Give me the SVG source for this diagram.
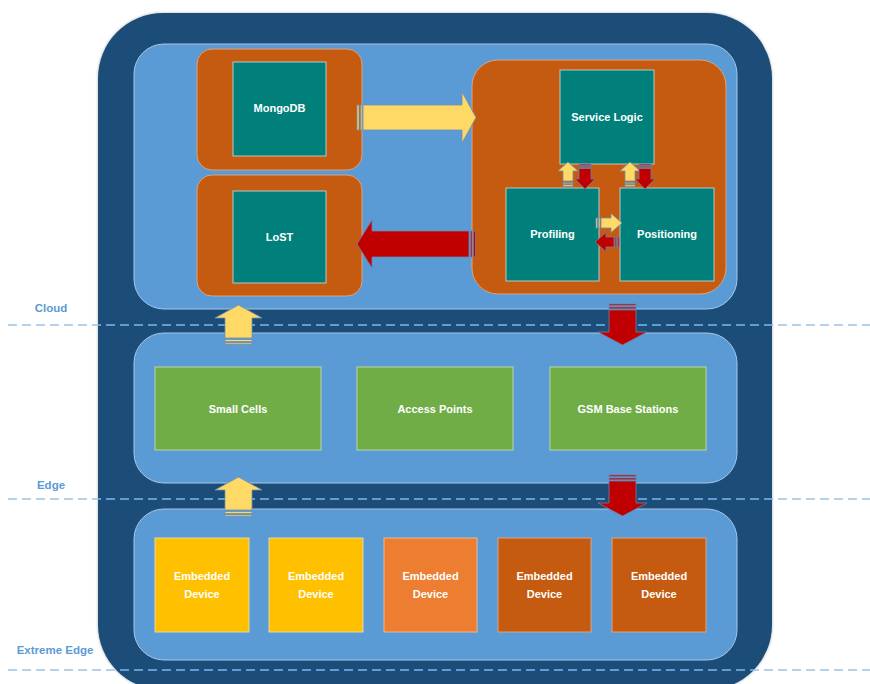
<svg xmlns="http://www.w3.org/2000/svg" width="870" height="684" viewBox="0 0 870 684">
  <defs>
    <style>
      .frame { fill: #1F4E79; }
      .panel { fill: #5B9BD5; stroke: #A9C6E4; stroke-width: 1; }
      .host { fill: #C55A11; stroke: #D9A37E; stroke-width: 1; }
      .svc { fill: #007F7B; stroke: #B7C9C8; stroke-width: 1; }
      .net { fill: #70AD47; stroke: #B9D6A4; stroke-width: 1; }
      .dev-y { fill: #FFC000; stroke: #E3D7A8; stroke-width: 1; }
      .dev-o { fill: #ED7D31; stroke: #E8B99A; stroke-width: 1; }
      .dev-r { fill: #C55A11; stroke: #D9A37E; stroke-width: 1; }
      .lbl { font-family: "Liberation Sans", Arial, sans-serif; font-weight: bold; font-size: 11px; fill: #FFFFFF; text-anchor: middle; }
      .tier { font-family: "Liberation Sans", Arial, sans-serif; font-weight: bold; font-size: 11.5px; fill: #5B9BD5; text-anchor: middle; }
      .divider { stroke: #9DC3E6; stroke-width: 1.3; stroke-dasharray: 9 5; fill: none; }
      .divider-in { stroke: #5B9BD5; stroke-width: 1.3; stroke-dasharray: 9 5; fill: none; }
      .up { fill: #FFD966; stroke: #6F8FAF; stroke-width: 0.8; }
      .down { fill: #C00000; stroke: #6F7FA8; stroke-width: 0.8; }
    </style>
    <filter id="glow" x="-5%" y="-5%" width="110%" height="110%">
      <feGaussianBlur in="SourceAlpha" stdDeviation="1.5"/>
      <feComponentTransfer><feFuncA type="linear" slope="0.3"/></feComponentTransfer>
      <feMerge><feMergeNode/><feMergeNode in="SourceGraphic"/></feMerge>
    </filter>
    <clipPath id="frame-clip">
      <rect x="98" y="13" width="674" height="677" rx="65" ry="65"/>
    </clipPath>
  </defs>

  <!-- outer container -->
  <rect class="frame" x="98" y="13" width="674" height="677" rx="65" ry="65" filter="url(#glow)"/>

  <!-- tier dividers: pale outside the container, brighter across it -->
  <g id="dividers">
    <line class="divider" x1="8" y1="325" x2="870" y2="325"/>
    <line class="divider" x1="8" y1="499" x2="870" y2="499"/>
    <line class="divider" x1="8" y1="670" x2="870" y2="670"/>
    <g clip-path="url(#frame-clip)">
      <line class="divider-in" x1="8" y1="325" x2="870" y2="325"/>
      <line class="divider-in" x1="8" y1="499" x2="870" y2="499"/>
      <line class="divider-in" x1="8" y1="670" x2="870" y2="670"/>
    </g>
  </g>
  <text class="tier" x="51" y="312">Cloud</text>
  <text class="tier" x="51" y="489">Edge</text>
  <text class="tier" x="55" y="654">Extreme Edge</text>

  <!-- cloud tier -->
  <g id="cloud">
    <rect class="panel" x="134" y="44" width="603" height="265" rx="30" ry="30"/>
  </g>
  <g id="mongodb">
    <rect class="host" x="197" y="49" width="165" height="121" rx="15" ry="15"/>
    <rect class="svc" x="233" y="62" width="93" height="94"/>
    <text class="lbl" x="279.5" y="112">MongoDB</text>
  </g>
  <g id="lost">
    <rect class="host" x="197" y="175" width="165" height="121" rx="15" ry="15"/>
    <rect class="svc" x="233" y="191" width="93" height="92"/>
    <text class="lbl" x="279.5" y="241">LoST</text>
  </g>
  <g id="service-host">
    <rect class="host" x="472" y="60" width="254" height="234" rx="26" ry="26"/>
  </g>
  <g id="service-logic">
    <rect class="svc" x="560" y="70" width="94" height="94"/>
    <text class="lbl" x="607" y="121">Service Logic</text>
  </g>
  <g id="profiling">
    <rect class="svc" x="506" y="188" width="93" height="93"/>
    <text class="lbl" x="552.5" y="238">Profiling</text>
  </g>
  <g id="positioning">
    <rect class="svc" x="620" y="188" width="94" height="93"/>
    <text class="lbl" x="667" y="238">Positioning</text>
  </g>

  <!-- edge tier -->
  <g id="edge">
    <rect class="panel" x="134" y="333" width="603" height="150" rx="30" ry="30"/>
  </g>
  <g id="small-cells">
    <rect class="net" x="155" y="367" width="166" height="83"/>
    <text class="lbl" x="238" y="413">Small Cells</text>
  </g>
  <g id="access-points">
    <rect class="net" x="357" y="367" width="156" height="83"/>
    <text class="lbl" x="435" y="413">Access Points</text>
  </g>
  <g id="gsm-base-stations">
    <rect class="net" x="550" y="367" width="156" height="83"/>
    <text class="lbl" x="628" y="413">GSM Base Stations</text>
  </g>

  <!-- extreme edge tier -->
  <g id="extreme-edge">
    <rect class="panel" x="134" y="509" width="603" height="151" rx="30" ry="30"/>
  </g>
  <g id="device-1">
    <rect class="dev-y" x="155" y="538" width="94" height="94"/>
    <text class="lbl" x="202" y="580">Embedded</text>
    <text class="lbl" x="202" y="598">Device</text>
  </g>
  <g id="device-2">
    <rect class="dev-y" x="269" y="538" width="94" height="94"/>
    <text class="lbl" x="316" y="580">Embedded</text>
    <text class="lbl" x="316" y="598">Device</text>
  </g>
  <g id="device-3">
    <rect class="dev-o" x="384" y="538" width="93" height="94"/>
    <text class="lbl" x="430.5" y="580">Embedded</text>
    <text class="lbl" x="430.5" y="598">Device</text>
  </g>
  <g id="device-4">
    <rect class="dev-r" x="498" y="538" width="93" height="94"/>
    <text class="lbl" x="544.5" y="580">Embedded</text>
    <text class="lbl" x="544.5" y="598">Device</text>
  </g>
  <g id="device-5">
    <rect class="dev-r" x="612" y="538" width="94" height="94"/>
    <text class="lbl" x="659" y="580">Embedded</text>
    <text class="lbl" x="659" y="598">Device</text>
  </g>

  <!-- connectors: striped block arrows -->
  <g id="connectors">
    <!-- MongoDB to Service Logic -->
    <rect class="up" x="357" y="105" width="2" height="25"/>
    <rect class="up" x="360.5" y="105" width="1.5" height="25"/>
    <path class="up" d="M363,105 H462 V92 L476,117.5 L462,143 V130 H363 Z"/>

    <!-- service host to LoST -->
    <path class="down" d="M357,244 L372,220 V231 H469 V257 H372 V268 Z"/>
    <rect class="down" x="470.5" y="231" width="1.5" height="26"/>
    <rect class="down" x="473.5" y="231" width="2" height="26"/>

    <!-- Profiling up to Service Logic -->
    <path class="up" d="M568,162 L578,171 H573 V181 H563 V171 H558 Z"/>
    <rect class="up" x="563" y="182.5" width="10" height="1.2"/>
    <rect class="up" x="563" y="184.8" width="10" height="1.5"/>
    <!-- Service Logic down to Profiling -->
    <rect class="down" x="579" y="164" width="12" height="1.2"/>
    <rect class="down" x="579" y="166.3" width="12" height="1.2"/>
    <path class="down" d="M579,168.5 H591 V179 H595 L585,189 L575,179 H579 Z"/>

    <!-- Positioning up to Service Logic -->
    <path class="up" d="M630,162 L640,171 H635 V181 H625 V171 H620 Z"/>
    <rect class="up" x="625" y="182.5" width="10" height="1.2"/>
    <rect class="up" x="625" y="184.8" width="10" height="1.5"/>
    <!-- Service Logic down to Positioning -->
    <rect class="down" x="639" y="164" width="12" height="1.2"/>
    <rect class="down" x="639" y="166.3" width="12" height="1.2"/>
    <path class="down" d="M639,168.5 H651 V179 H655 L645,189 L635,179 H639 Z"/>

    <!-- Profiling to Positioning -->
    <rect class="up" x="596" y="218" width="1.5" height="10"/>
    <rect class="up" x="598.5" y="218" width="1.5" height="10"/>
    <path class="up" d="M601,218 H611 V213.5 L622,223 L611,232.5 V228 H601 Z"/>
    <!-- Positioning to Profiling -->
    <path class="down" d="M595,242 L606,232.5 V237 H614 V247 H606 V251.5 Z"/>
    <rect class="down" x="615" y="237" width="1.2" height="10"/>
    <rect class="down" x="617.5" y="237" width="1.5" height="10"/>

    <!-- Edge up to Cloud -->
    <path class="up" d="M238.5,305 L262,318 H252 V338 H225 V318 H215 Z"/>
    <rect class="up" x="225" y="339.5" width="27" height="2"/>
    <rect class="up" x="225" y="343" width="27" height="1.5"/>
    <!-- Cloud down to Edge -->
    <rect class="down" x="609" y="304" width="27" height="1.5"/>
    <rect class="down" x="609" y="307" width="27" height="1.8"/>
    <path class="down" d="M609,310 H636 V332 H647 L622.5,345 L598,332 H609 Z"/>

    <!-- Extreme Edge up to Edge -->
    <path class="up" d="M238.5,477 L262,490 H252 V510 H225 V490 H215 Z"/>
    <rect class="up" x="225" y="511.5" width="27" height="2"/>
    <rect class="up" x="225" y="515" width="27" height="1.5"/>
    <!-- Edge down to Extreme Edge -->
    <rect class="down" x="609" y="475" width="27" height="1.5"/>
    <rect class="down" x="609" y="478" width="27" height="1.8"/>
    <path class="down" d="M609,481 H636 V503 H647 L622.5,516 L598,503 H609 Z"/>
  </g>
</svg>
